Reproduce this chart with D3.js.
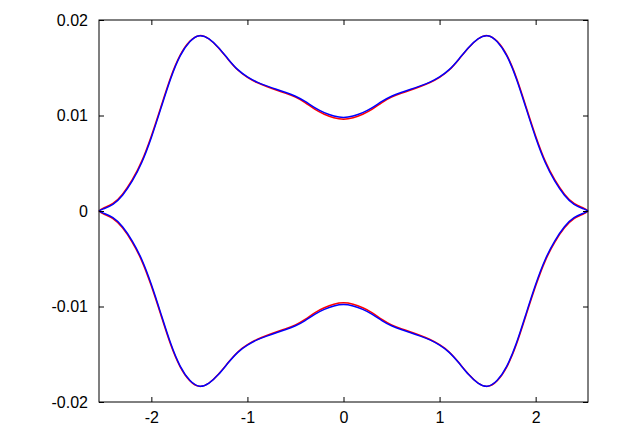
<!DOCTYPE html>
<html><head><meta charset="utf-8">
<script src="https://cdn.jsdelivr.net/npm/d3@7"></script>
<style>html,body{margin:0;padding:0;background:#fff;}svg{display:block;}</style>
</head><body>
<script>
const xs = [-2.545,-2.5,-2.4,-2.3,-2.2,-2.1,-2.0,-1.9,-1.8,-1.7,-1.6,-1.5,-1.4,-1.3,-1.2,-1.1,-1.0,-0.9,-0.8,-0.7,-0.6,-0.5,-0.4,-0.3,-0.2,-0.1,0,
  0.1,0.2,0.3,0.4,0.5,0.6,0.7,0.8,0.9,1.0,1.1,1.2,1.3,1.4,1.5,1.6,1.7,1.8,1.9,2.0,2.1,2.2,2.3,2.4,2.5,2.545];
const blueUpper = [0,0.00022,0.0007,0.00165,0.00312,0.00508,0.0077,0.01077,0.01383,0.01624,0.01772,0.01835,0.01802,0.0171,0.0159,0.0148,0.01405,0.0135,0.0131,0.01274,0.0124,0.01202,0.01147,0.01082,0.0103,0.00995,0.0098,
  0.00995,0.0103,0.01082,0.01147,0.01202,0.0124,0.01274,0.0131,0.0135,0.01405,0.0148,0.0159,0.0171,0.01802,0.01835,0.01772,0.01624,0.01383,0.01077,0.0077,0.00508,0.00312,0.00165,0.0007,0.00022,0];
const blueLower = [0,-0.00022,-0.0007,-0.00165,-0.00312,-0.00508,-0.0077,-0.01077,-0.01383,-0.01624,-0.01772,-0.01835,-0.01802,-0.0171,-0.0159,-0.0148,-0.01405,-0.0135,-0.0131,-0.01274,-0.0124,-0.01202,-0.01147,-0.01082,-0.0103,-0.00995,-0.0098,
  -0.00995,-0.0103,-0.01082,-0.01147,-0.01202,-0.0124,-0.01274,-0.0131,-0.0135,-0.01405,-0.0148,-0.0159,-0.0171,-0.01802,-0.01835,-0.01772,-0.01624,-0.01383,-0.01077,-0.0077,-0.00508,-0.00312,-0.00165,-0.0007,-0.00022,0];
const redUpper = [0,0.0003,0.0008,0.00177,0.00325,0.00522,0.00786,0.01092,0.01396,0.01632,0.01777,0.01836,0.01801,0.01707,0.01587,0.01476,0.014,0.01345,0.01304,0.01267,0.01232,0.01192,0.01135,0.01066,0.01013,0.00977,0.00962,
  0.00977,0.01013,0.01066,0.01135,0.01192,0.01232,0.01267,0.01304,0.01345,0.014,0.01476,0.01587,0.01707,0.01801,0.01836,0.01777,0.01632,0.01396,0.01092,0.00786,0.00522,0.00325,0.00177,0.0008,0.0003,0];
const redLower = [0,-0.0003,-0.0008,-0.00177,-0.00325,-0.00522,-0.00786,-0.01092,-0.01396,-0.01632,-0.01777,-0.01836,-0.01801,-0.01707,-0.01587,-0.01476,-0.014,-0.01345,-0.01304,-0.01267,-0.01232,-0.01192,-0.01135,-0.01066,-0.01013,-0.00977,-0.00962,
  -0.00977,-0.01013,-0.01066,-0.01135,-0.01192,-0.01232,-0.01267,-0.01304,-0.01345,-0.014,-0.01476,-0.01587,-0.01707,-0.01801,-0.01836,-0.01777,-0.01632,-0.01396,-0.01092,-0.00786,-0.00522,-0.00325,-0.00177,-0.0008,-0.0003,0];
const xTicks = [-2,-1,0,1,2];
const xTickLabels = ["-2","-1","0","1","2"];
const yTicks = [-0.02,-0.01,0,0.01,0.02];
const yTickLabels = ["-0.02","-0.01","0","0.01","0.02"];

const W = 623, H = 436;
const L = 99, R = 588, T = 20, B = 402;
const svg = d3.select("body").append("svg").attr("width", W).attr("height", H);
const x = d3.scaleLinear().domain([-2.545, 2.545]).range([L, R]);
const y = d3.scaleLinear().domain([-0.02, 0.02]).range([B, T]);

const line = d3.line().x(d => x(d[0])).y(d => y(d[1])).curve(d3.curveNatural);
const series = [
  {vals: redUpper, color: "#ff0000"},
  {vals: redLower, color: "#ff0000"},
  {vals: blueUpper, color: "#0000ff"},
  {vals: blueLower, color: "#0000ff"}
];
const g = svg.append("g");
series.forEach(s => {
  g.append("path").datum(xs.map((v, i) => [v, s.vals[i]]))
    .attr("d", line).attr("fill", "none").attr("stroke", s.color).attr("stroke-width", 1.5);
});

const tl = 5;
const font = "'Liberation Sans', Arial, sans-serif";
const axB = svg.append("g").attr("transform", `translate(0,${B})`)
  .call(d3.axisBottom(x).tickValues(xTicks).tickSizeInner(-tl).tickSizeOuter(0).tickPadding(10).tickFormat((d, i) => xTickLabels[i]));
const axT = svg.append("g").attr("transform", `translate(0,${T})`)
  .call(d3.axisTop(x).tickValues(xTicks).tickSizeInner(-tl).tickSizeOuter(0).tickFormat(""));
const axL = svg.append("g").attr("transform", `translate(${L},0)`)
  .call(d3.axisLeft(y).tickValues(yTicks).tickSizeInner(-tl).tickSizeOuter(0).tickPadding(11).tickFormat((d, i) => yTickLabels[i]));
const axR = svg.append("g").attr("transform", `translate(${R},0)`)
  .call(d3.axisRight(y).tickValues(yTicks).tickSizeInner(-tl).tickSizeOuter(0).tickFormat(""));
[axB, axT, axL, axR].forEach(a => {
  a.select(".domain").remove();
  a.selectAll("line").attr("stroke", "#000").attr("stroke-width", 1);
  a.selectAll("text").attr("fill", "#000").style("font-family", font).style("font-size", "16px");
});
svg.append("rect").attr("x", L).attr("y", T).attr("width", R - L).attr("height", B - T)
  .attr("fill", "none").attr("stroke", "#000").attr("stroke-width", 1);
</script>
</body></html>
